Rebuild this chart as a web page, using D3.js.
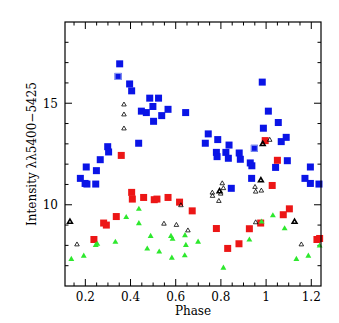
<!DOCTYPE html>
<html>
<head>
<meta charset="utf-8">
<script src="https://cdn.jsdelivr.net/npm/d3@7"></script>
<style>
  body { margin: 0; background: #fff; }
  text { font-family: "DejaVu Serif", "Liberation Serif", serif; }
</style>
</head>
<body>
<div id="chart"></div>
<script>
// phase, intensity
const blueSquares = [
  [0.352, 16.94], [0.345, 16.32], [0.396, 15.95], [0.405, 15.61], [0.485, 15.25],
  [0.524, 15.25], [0.499, 14.84], [0.448, 14.61], [0.470, 14.54], [0.566, 14.70],
  [0.538, 14.39], [0.502, 14.11], [0.644, 14.54], [0.436, 13.03], [0.299, 12.86],
  [0.303, 12.60], [0.266, 12.22], [0.204, 11.86], [0.249, 11.68], [0.178, 11.30],
  [0.199, 11.05], [0.207, 11.02], [0.246, 11.02],
  [0.744, 13.49], [0.731, 13.03], [0.786, 13.21], [0.780, 12.58], [0.783, 12.37],
  [0.836, 12.94], [0.822, 12.58], [0.833, 12.29], [0.881, 12.55], [0.886, 12.24],
  [0.930, 12.06], [0.937, 11.92], [0.936, 11.30], [0.846, 10.81], [0.948, 12.78],
  [0.983, 16.04], [0.988, 13.77], [1.010, 14.61], [1.054, 14.05], [1.067, 13.11],
  [1.089, 13.32], [1.042, 11.84], [1.094, 12.17], [1.172, 11.30], [1.196, 11.86],
  [1.196, 11.05], [1.234, 11.02]
];
const blueRinged = [[0.345, 16.32], [0.948, 12.78]];

const redSquares = [
  [0.359, 12.43], [0.405, 10.61], [0.408, 10.28], [0.458, 10.36], [0.505, 10.25],
  [0.517, 10.28], [0.566, 10.36], [0.617, 10.13], [0.673, 9.70], [0.337, 9.42],
  [0.281, 9.10], [0.293, 9.00], [0.238, 8.29], [0.780, 8.83], [0.830, 7.85],
  [0.880, 8.08], [0.926, 8.82], [0.976, 9.10], [0.996, 13.16], [1.027, 10.95],
  [1.050, 12.19], [1.076, 9.51], [1.103, 9.80], [1.225, 8.29], [1.237, 8.34]
];

const greenTriangles = [
  [0.138, 7.32], [0.193, 7.48], [0.246, 8.01], [0.253, 8.06], [0.333, 8.16],
  [0.381, 9.38], [0.437, 9.79], [0.437, 9.08], [0.474, 7.83], [0.489, 8.45],
  [0.527, 7.68], [0.579, 8.45], [0.586, 8.31], [0.583, 7.38], [0.641, 8.49],
  [0.645, 8.01], [0.640, 7.50], [0.699, 8.17], [0.811, 6.89], [0.926, 8.27],
  [0.980, 9.16], [1.030, 9.47], [1.082, 8.83], [1.134, 7.32], [1.187, 7.48],
  [1.237, 7.98]
];

const openTriangles = [
  [0.163, 8.04], [0.371, 14.93], [0.371, 14.44], [0.371, 13.75], [0.623, 9.97],
  [0.548, 9.06], [0.603, 9.00], [0.654, 8.73], [0.762, 10.59], [0.763, 10.43],
  [0.799, 10.54], [0.791, 10.18], [0.806, 11.05], [0.811, 10.81], [0.951, 10.87],
  [0.954, 10.64], [0.979, 10.69], [0.954, 9.13], [1.016, 13.19], [1.156, 8.04]
];
// heavier ones (several spectra on top of each other)
const openBold = [[0.132, 9.16], [0.794, 10.66], [0.977, 11.20], [0.985, 12.99], [1.126, 9.16]];

const xTicks = [0.2, 0.4, 0.6, 0.8, 1, 1.2];
const yTicks = [10, 15];

const width = 339, height = 323;
const margin = {top: 22, right: 18, bottom: 37, left: 65};

const x = d3.scaleLinear().domain([0.11, 1.243]).range([margin.left, width - margin.right]);
const y = d3.scaleLinear().domain([6, 19]).range([height - margin.bottom, margin.top]);

const svg = d3.select("#chart").append("svg")
  .attr("width", width)
  .attr("height", height);

const x0 = margin.left, x1 = width - margin.right;
const y0 = height - margin.bottom, y1 = margin.top;

// ticks, pointing inward on all four sides
const xMinor = d3.range(0.15, 1.2501, 0.05).filter(v => v >= 0.11 && v <= 1.243);
const yMinor = d3.range(7, 19, 1);
const isMajX = v => xTicks.some(t => Math.abs(t - v) < 1e-6);
const isMajY = v => yTicks.includes(v);

const ticks = svg.append("g").attr("stroke", "#000").attr("stroke-width", 1);
xMinor.forEach(v => {
  const len = isMajX(v) ? 7 : 3.5;
  ticks.append("line").attr("x1", x(v)).attr("x2", x(v)).attr("y1", y0).attr("y2", y0 - len);
  ticks.append("line").attr("x1", x(v)).attr("x2", x(v)).attr("y1", y1).attr("y2", y1 + len);
});
yMinor.forEach(v => {
  const len = isMajY(v) ? 7 : 3.5;
  ticks.append("line").attr("y1", y(v)).attr("y2", y(v)).attr("x1", x0).attr("x2", x0 + len);
  ticks.append("line").attr("y1", y(v)).attr("y2", y(v)).attr("x1", x1).attr("x2", x1 - len);
});

// markers
const sq = 7;
svg.append("g").selectAll("rect")
  .data(blueSquares)
  .join("rect")
  .attr("x", d => x(d[0]) - sq / 2)
  .attr("y", d => y(d[1]) - sq / 2)
  .attr("width", sq).attr("height", sq)
  .attr("fill", "#0a14e6");

svg.append("g").selectAll("rect")
  .data(blueRinged)
  .join("rect")
  .attr("x", d => x(d[0]) - sq / 2 + 0.5)
  .attr("y", d => y(d[1]) - sq / 2 + 0.5)
  .attr("width", sq - 1).attr("height", sq - 1)
  .attr("fill", "#0a14e6")
  .attr("stroke", "#8a9cf0")
  .attr("stroke-width", 1);

svg.append("g").selectAll("rect")
  .data(redSquares)
  .join("rect")
  .attr("x", d => x(d[0]) - sq / 2)
  .attr("y", d => y(d[1]) - sq / 2)
  .attr("width", sq).attr("height", sq)
  .attr("fill", "#ec1616");

const tri = d3.symbol().type(d3.symbolTriangle);

svg.append("g").selectAll("path")
  .data(greenTriangles)
  .join("path")
  .attr("transform", d => `translate(${x(d[0])},${y(d[1])})`)
  .attr("d", tri.size(15)())
  .attr("fill", "#2de82d");

svg.append("g").selectAll("path")
  .data(openTriangles)
  .join("path")
  .attr("transform", d => `translate(${x(d[0])},${y(d[1])})`)
  .attr("d", tri.size(9)())
  .attr("fill", "none")
  .attr("stroke", "#000")
  .attr("stroke-width", 0.8);

svg.append("g").selectAll("path")
  .data(openBold)
  .join("path")
  .attr("transform", d => `translate(${x(d[0])},${y(d[1])})`)
  .attr("d", tri.size(10)())
  .attr("fill", "none")
  .attr("stroke", "#000")
  .attr("stroke-width", 1.6);

// frame
svg.append("rect")
  .attr("x", x0).attr("y", y1)
  .attr("width", x1 - x0).attr("height", y0 - y1)
  .attr("fill", "none")
  .attr("stroke", "#000")
  .attr("stroke-width", 1.2);

// tick labels
svg.append("g")
  .attr("font-size", 12)
  .attr("text-anchor", "middle")
  .selectAll("text")
  .data(xTicks)
  .join("text")
  .attr("x", d => x(d))
  .attr("y", y0 + 15)
  .text(d => d3.format("")(d));

svg.append("g")
  .attr("font-size", 12)
  .attr("text-anchor", "end")
  .selectAll("text")
  .data(yTicks)
  .join("text")
  .attr("x", x0 - 7)
  .attr("y", d => y(d) + 4.5)
  .text(d => d);

// axis titles
svg.append("text")
  .attr("x", (x0 + x1) / 2)
  .attr("y", y0 + 29)
  .attr("text-anchor", "middle")
  .attr("font-size", 12)
  .text("Phase");

svg.append("text")
  .attr("transform", `translate(36,${(y0 + y1) / 2}) rotate(-90)`)
  .attr("text-anchor", "middle")
  .attr("font-size", 12)
  .text("Intensity λλ5400−5425");
</script>
</body>
</html>
